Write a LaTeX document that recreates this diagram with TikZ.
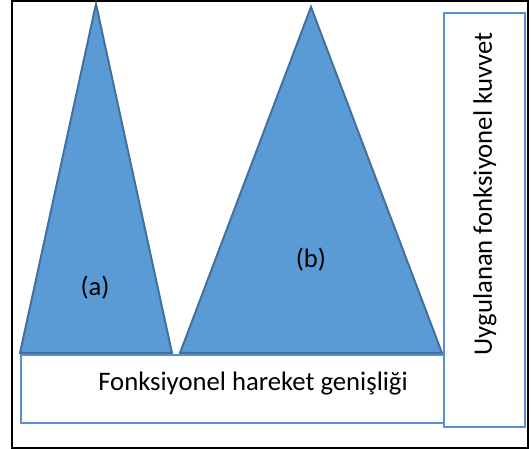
\documentclass[tikz,border=0pt]{standalone}
\usepackage{fontspec}
\setmainfont{Carlito}
\definecolor{triFill}{HTML}{5B9BD5}
\definecolor{triLine}{HTML}{41719C}
\definecolor{boxLine}{HTML}{5B8FD5}
\begin{document}
\begin{tikzpicture}[x=1pt,y=-1pt,
  tri/.style={fill=triFill,draw=triLine,line width=2pt,line join=miter},
  lbl/.style={font=\fontsize{26.7}{32}\selectfont,text=black},
  bx/.style={draw=boxLine,line width=2pt,fill=white}]
\useasboundingbox (0,0) rectangle (531,449);
\draw[line width=2.5pt] (12,1) rectangle (528,448);
\coordinate (aT) at (96,4);
\coordinate (aL) at (20,353);
\coordinate (aR) at (172,353);
\coordinate (bT) at (311,7);
\coordinate (bL) at (180,353);
\coordinate (bR) at (442,353);
\draw[tri] (aT) -- (aR) -- (aL) -- cycle;
\draw[tri] (bT) -- (bR) -- (bL) -- cycle;
\node[bx,minimum width=423pt,minimum height=68pt,inner sep=0pt,anchor=north west] (base) at (20,354) {};
\node[bx,minimum width=81pt,minimum height=414pt,inner sep=0pt,anchor=north west] (force) at (443,12) {};
\node[lbl] (la) at (95,288) {(a)};
\node[lbl] (lb) at (311,260) {(b)};
\node[lbl] (lbase) at (253,384) {Fonksiyonel hareket genişliği};
\node[lbl,rotate=90] (lforce) at (485,194) {Uygulanan fonksiyonel kuvvet};
\end{tikzpicture}
\end{document}
